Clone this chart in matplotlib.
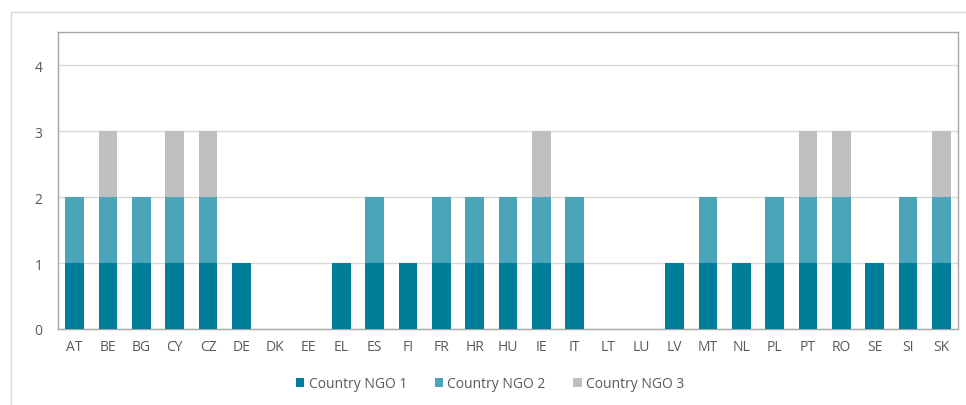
import matplotlib
matplotlib.use("Agg")
import matplotlib.pyplot as plt
from matplotlib.patches import Rectangle
import numpy as np

plt.rcParams['font.family'] = ['Open Sans', 'DejaVu Sans']

countries = ["AT", "BE", "BG", "CY", "CZ", "DE", "DK", "EE", "EL", "ES", "FI", "FR", "HR", "HU",
             "IE", "IT", "LT", "LU", "LV", "MT", "NL", "PL", "PT", "RO", "SE", "SI", "SK"]
ngo1 = [1, 1, 1, 1, 1, 1, 0, 0, 1, 1, 1, 1, 1, 1, 1, 1, 0, 0, 1, 1, 1, 1, 1, 1, 1, 1, 1]
ngo2 = [1, 1, 1, 1, 1, 0, 0, 0, 0, 1, 0, 1, 1, 1, 1, 1, 0, 0, 0, 1, 0, 1, 1, 1, 0, 1, 1]
ngo3 = [0, 1, 0, 1, 1, 0, 0, 0, 0, 0, 0, 0, 0, 0, 1, 0, 0, 0, 0, 0, 0, 0, 1, 1, 0, 0, 1]
series_names = ["Country NGO 1", "Country NGO 2", "Country NGO 3"]
colors = ["#007E99", "#4BA5B8", "#BFBFBF"]

fig = plt.figure(figsize=(9.66, 4.06), dpi=100)
# outer chart border
fig.patches.append(Rectangle((11 / 966, -0.01), 1.0, 1 - 13 / 406 + 0.01, transform=fig.transFigure,
                             fill=False, edgecolor="#D9D9D9", linewidth=1.0))

ax = fig.add_axes([58 / 966, 1 - 330 / 406, (958 - 58) / 966, (330 - 33) / 406])
x = np.arange(len(countries))
w = 0.56
a1 = np.array(ngo1); a2 = np.array(ngo2); a3 = np.array(ngo3)
ax.bar(x, a1, w, color=colors[0], label=series_names[0], zorder=3)
ax.bar(x, a2, w, bottom=a1, color=colors[1], label=series_names[1], zorder=3)
ax.bar(x, a3, w, bottom=a1 + a2, color=colors[2], label=series_names[2], zorder=3)

ax.set_xlim(-0.5, len(countries) - 0.5)
ax.set_ylim(0, 4.5)
ax.set_yticks([0, 1, 2, 3, 4])
ax.set_xticks(x)
ax.set_xticklabels(countries)
ax.yaxis.grid(True, color="#D9D9D9", linewidth=1.0, zorder=0)
ax.tick_params(axis="both", length=0, labelsize=10, colors="#595959")
ax.tick_params(axis="x", pad=7)
ax.tick_params(axis="y", pad=11)
for s in ax.spines.values():
    s.set_color("#A6A6A6")
    s.set_linewidth(1.0)

leg = fig.legend(loc="center", bbox_to_anchor=(490 / 966, 1 - 385 / 406), ncol=3, frameon=False,
                 fontsize=10, handlelength=0.6, handleheight=0.6, handletextpad=0.3, columnspacing=2.0)
for t in leg.get_texts():
    t.set_color("#595959")

fig.savefig("out.png", dpi=100)
